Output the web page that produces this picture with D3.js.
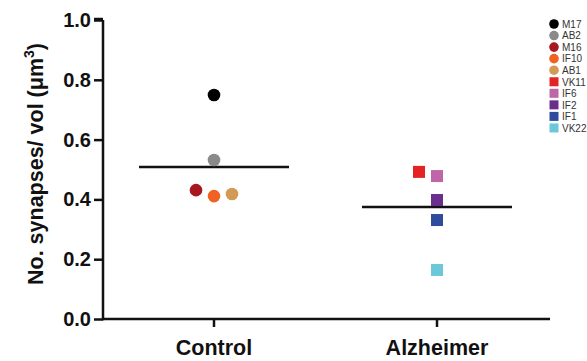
<!DOCTYPE html>
<html>
<head>
<meta charset="utf-8">
<script src="https://cdn.jsdelivr.net/npm/d3@7"></script>
<style>
  body { margin: 0; background: #fff; }
  svg text { font-family: "Liberation Sans", Arial, sans-serif; }
</style>
</head>
<body>
<div id="chart"></div>
<script>
// groups on the x axis
var groups = ["Control", "Alzheimer"]

// one entry per subject: group, value, horizontal jitter (in dot widths)
var subjects = ["M17", "AB2", "M16", "IF10", "AB1", "VK11", "IF6", "IF2", "IF1", "VK22"]
var subjectGroup = ["Control", "Control", "Control", "Control", "Control",
                    "Alzheimer", "Alzheimer", "Alzheimer", "Alzheimer", "Alzheimer"]
var values = [0.749, 0.532, 0.431, 0.411, 0.418, 0.492, 0.478, 0.398, 0.331, 0.164]
var jitter = [0, 0, -1, 0, 1, -1, 0, 0, 0, 0]
var colors = ["#000000", "#8a8a8a", "#a8161f", "#ef6222", "#d29a55",
              "#e42424", "#bf66a6", "#6a2e8c", "#2f4b9c", "#6cc8d9"]

// group means drawn as horizontal lines
var means = [0.508, 0.375]

var yTicks = [0, 0.2, 0.4, 0.6, 0.8, 1.0]

var W = 587, H = 361
var margin = { top: 20, right: 37, bottom: 42, left: 103 }

var svg = d3.select("#chart").append("svg")
    .attr("width", W)
    .attr("height", H)

var x = d3.scalePoint()
    .domain(groups)
    .range([214, 437])

var y = d3.scaleLinear()
    .domain([0, 1])
    .range([H - margin.bottom, margin.top])

var jx = 18   // jitter step, px

// x axis (custom extent so the line runs to 550)
var xg = svg.append("g")
    .attr("transform", "translate(0," + y(0) + ")")
xg.append("line")
    .attr("x1", margin.left).attr("x2", 550)
    .attr("stroke", "#111").attr("stroke-width", 2.5)
xg.selectAll(".xt")
    .data(groups)
  .enter().append("line")
    .attr("x1", d => x(d)).attr("x2", d => x(d))
    .attr("y1", 0).attr("y2", 8)
    .attr("stroke", "#111").attr("stroke-width", 2.5)
xg.selectAll(".xl")
    .data(groups)
  .enter().append("text")
    .attr("x", d => x(d))
    .attr("y", 36)
    .attr("text-anchor", "middle")
    .attr("font-size", 21.5)
    .attr("font-weight", "bold")
    .attr("fill", "#111")
    .text(d => d)

// y axis
var yAxis = d3.axisLeft(y)
    .tickValues(yTicks)
    .tickFormat(d3.format(".1f"))
    .tickSize(9)
    .tickPadding(3)

var yg = svg.append("g")
    .attr("transform", "translate(" + margin.left + ",0)")
    .call(yAxis)
yg.select(".domain")
    .attr("d", "M0," + (y(1) - 1) + "H-9M0," + y(1) + "V" + (y(0) + 1.2))
    .attr("stroke", "#111").attr("stroke-width", 2.5)
yg.selectAll(".tick line").attr("stroke", "#111").attr("stroke-width", 2.5)
yg.selectAll(".tick text")
    .attr("font-size", 20)
    .attr("font-weight", "bold")
    .attr("fill", "#111")

// y label
var yl = svg.append("text")
    .attr("transform", "translate(43,164) rotate(-90)")
    .attr("text-anchor", "middle")
    .attr("font-size", 21.5)
    .attr("font-weight", "bold")
    .attr("fill", "#111")
yl.append("tspan").text("No. synapses/ vol (\u03bcm")
yl.append("tspan").attr("font-size", 14).attr("dy", -9).text("3")
yl.append("tspan").attr("dy", 9).text(")")

// mean lines
svg.selectAll(".mean")
    .data(groups)
  .enter().append("line")
    .attr("x1", d => x(d) - 75).attr("x2", d => x(d) + 75)
    .attr("y1", (d, i) => y(means[i])).attr("y2", (d, i) => y(means[i]))
    .attr("stroke", "#111").attr("stroke-width", 2.5)

// points: circles for Control, squares for Alzheimer
var pts = subjects.map((s, i) => ({ name: s, g: subjectGroup[i], v: values[i], j: jitter[i], c: colors[i] }))

svg.selectAll(".dot")
    .data(pts.filter(d => d.g === "Control"))
  .enter().append("circle")
    .attr("cx", d => x(d.g) + d.j * jx)
    .attr("cy", d => y(d.v))
    .attr("r", 6.3)
    .attr("fill", d => d.c)

svg.selectAll(".sq")
    .data(pts.filter(d => d.g === "Alzheimer"))
  .enter().append("rect")
    .attr("x", d => x(d.g) + d.j * jx - 6)
    .attr("y", d => y(d.v) - 6)
    .attr("width", 12).attr("height", 12)
    .attr("fill", d => d.c)

// legend
var lg = svg.append("g").attr("transform", "translate(554,24)")
var item = lg.selectAll(".item")
    .data(pts)
  .enter().append("g")
    .attr("transform", (d, i) => "translate(0," + i * 11.55 + ")")
item.filter(d => d.g === "Control").append("circle")
    .attr("r", 4.8).attr("fill", d => d.c)
item.filter(d => d.g === "Alzheimer").append("rect")
    .attr("x", -4.5).attr("y", -4.5).attr("width", 9).attr("height", 9)
    .attr("fill", d => d.c)
item.append("text")
    .attr("x", 8).attr("y", 3.8)
    .attr("font-size", 10)
    .attr("fill", "#333")
    .text(d => d.name)
</script>
</body>
</html>
